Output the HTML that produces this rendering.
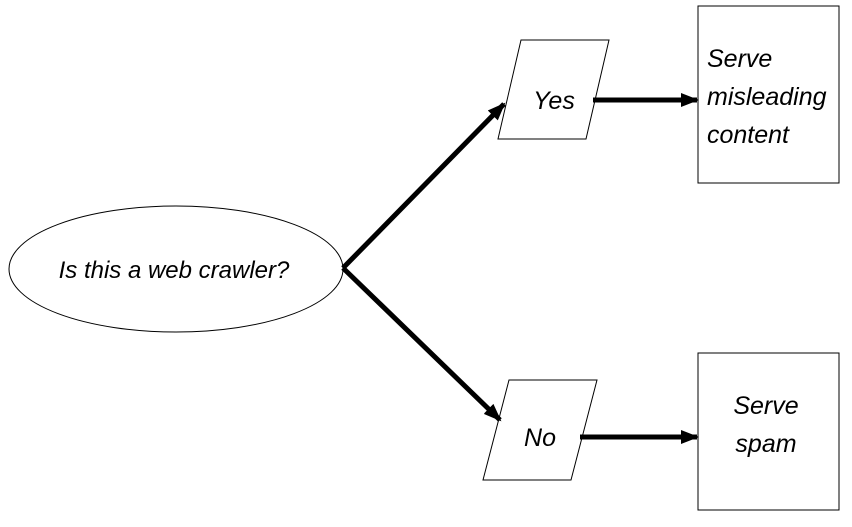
<!DOCTYPE html>
<html><head><style>
html,body{margin:0;padding:0;background:#fff;}
svg text{font-family:"Liberation Sans",sans-serif;font-style:italic;font-size:25px;fill:#000;}
</style></head><body>
<svg width="852" height="522" viewBox="0 0 852 522" xmlns="http://www.w3.org/2000/svg">
<defs>
<marker id="ah" markerWidth="18" markerHeight="14" refX="16" refY="7" orient="auto" markerUnits="userSpaceOnUse">
<path d="M0,0 L18,7 L0,14 z" fill="#000"/>
</marker>
</defs>
<ellipse cx="176" cy="269" rx="167" ry="63" fill="#fff" stroke="#000" stroke-width="1"/>
<text x="174" y="278" text-anchor="middle" style="font-size:24px">Is this a web crawler?</text>
<polygon points="521,40 609,40 586,139 498,139" fill="#fff" stroke="#000" stroke-width="1"/>
<text x="554" y="109" text-anchor="middle">Yes</text>
<polygon points="509,380 597,380 571,480 483,480" fill="#fff" stroke="#000" stroke-width="1"/>
<text x="540" y="446" text-anchor="middle">No</text>
<rect x="698" y="6" width="141" height="177" fill="#fff" stroke="#000" stroke-width="1"/>
<text x="707" y="67">Serve</text>
<text x="707" y="105">misleading</text>
<text x="707" y="143">content</text>
<rect x="698" y="353" width="141" height="157" fill="#fff" stroke="#000" stroke-width="1"/>
<text x="766" y="414" text-anchor="middle">Serve</text>
<text x="766" y="452" text-anchor="middle">spam</text>
<g stroke="#000" stroke-width="5" fill="none">
<line x1="343" y1="268" x2="504" y2="104" marker-end="url(#ah)"/>
<line x1="343" y1="268" x2="500" y2="420" marker-end="url(#ah)"/>
<line x1="593" y1="100" x2="697" y2="100" marker-end="url(#ah)"/>
<line x1="580" y1="437" x2="697" y2="437" marker-end="url(#ah)"/>
</g>
</svg>
</body></html>
